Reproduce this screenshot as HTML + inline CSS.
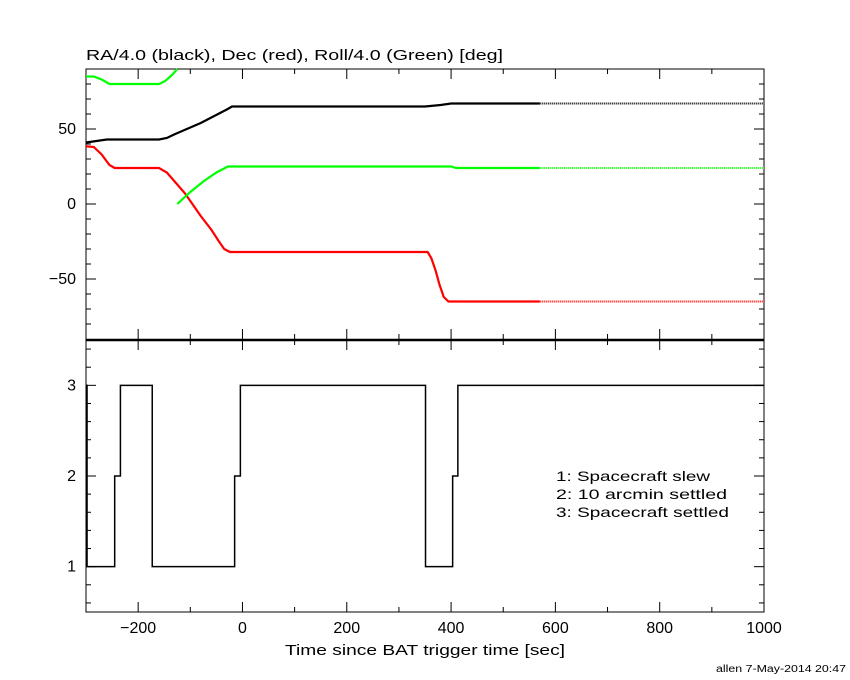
<!DOCTYPE html>
<html><head><meta charset="utf-8"><style>
body{margin:0;background:#fff}
svg{display:block;font-family:"Liberation Sans",sans-serif}
</style></head><body>
<svg id="c" width="850" height="680" viewBox="0 0 850 680">
<text x="86" y="60" font-size="15" textLength="417" lengthAdjust="spacingAndGlyphs">RA/4.0 (black), Dec (red), Roll/4.0 (Green) [deg]</text>
<g id="legend" font-size="14">
<text x="556" y="481" textLength="154" lengthAdjust="spacingAndGlyphs">1: Spacecraft slew</text>
<text x="556" y="499" textLength="171" lengthAdjust="spacingAndGlyphs">2: 10 arcmin settled</text>
<text x="556" y="517" textLength="173" lengthAdjust="spacingAndGlyphs">3: Spacecraft settled</text>
</g>
<text x="285" y="655" font-size="15" textLength="280" lengthAdjust="spacingAndGlyphs">Time since BAT trigger time [sec]</text>
<text x="716" y="672" font-size="10" textLength="130" lengthAdjust="spacingAndGlyphs">allen  7-May-2014 20:47</text>
</svg>
<script>
const xTicks=[-200,0,200,400,600,800,1000];
const topYTicks=[-50,0,50];
const botYTicks=[1,2,3];
const raSeries=[[-300,41],[-280,42],[-260,43],[-160,43],[-145,44],[-130,46.5],[-80,54],[-30,63],[-20,65],[0,65],[350,65],[380,66],[400,67],[1000,67]];
const decSeries=[[-300,38.5],[-285,38],[-270,33],[-255,26],[-245,24],[-160,24],[-145,21],[-130,15],[-110,7],[-96,0],[-80,-8],[-60,-17],[-45,-25],[-35,-30],[-24,-32],[355,-32],[362,-36],[370,-44],[378,-54],[386,-62],[395,-65],[1000,-65]];
const rollUpper=[[-300,85],[-285,85],[-270,83],[-255,80],[-160,80],[-148,82],[-135,86],[-125,90]];
const rollLower=[[-125,0],[-100,8],[-75,15],[-50,21],[-28,25],[400,25],[410,24],[1000,24]];
const modeTimes=[-300,-298,-245,-234,-173,-15,-4,351,403,413,1000];
const modeValues=[3,1,2,3,1,2,3,1,2,3,3];
const denseEnd=570;
const NS='http://www.w3.org/2000/svg';
const svg=document.getElementById('c');
const X0=86,X1=764,TT=69,TB=339,BT=340,BB=612;
const xs=t=>X0+(t+300)/1300*(X1-X0);
const yT=v=>TB-(v+90)/180*(TB-TT);
const yB=v=>BB-(v-0.5)/3*(BB-BT);
function mk(tag,a){const e=document.createElementNS(NS,tag);for(const k in a)e.setAttribute(k,a[k]);svg.appendChild(e);return e;}
let f=mk('rect',{x:X0,y:TT,width:X1-X0,height:BB-TT,fill:'none',stroke:'#000','stroke-width':1});


let sep=mk('line',{x1:X0,x2:X1,y1:340,y2:340,stroke:'#000','stroke-width':2.5});


for(let t=-300;t<=1000;t+=100){const px=xs(t);const L=(t%200===0)?10:5;
 for(const [yb,yt] of [[TB,TT],[BB,BT]]){
  const a=mk('line',{x1:px,x2:px,y1:yb,y2:yb-L,stroke:'#000'});
  const b=mk('line',{x1:px,x2:px,y1:yt,y2:yt+L,stroke:'#000'});}}
xTicks.forEach(t=>{const e=mk('text',{x:xs(t),y:633,'font-size':16,'text-anchor':'middle'});e.textContent=(t<0?'\u2212'+(-t):t);
 });
for(let v=-80;v<=80;v+=10){const L=(v%50===0)?10:5;
 const a=mk('line',{x1:X0,x2:X0+L,y1:yT(v),y2:yT(v),stroke:'#000'});
 const b=mk('line',{x1:X1,x2:X1-L,y1:yT(v),y2:yT(v),stroke:'#000'});}
topYTicks.forEach(v=>{const e=mk('text',{x:76,y:yT(v)+5,'font-size':16,'text-anchor':'end'});e.textContent=(v<0?'\u2212'+(-v):v);
 });
for(let i=3;i<=17;i++){const v=i/5;const L=(i%5===0)?10:5;
 const a=mk('line',{x1:X0,x2:X0+L,y1:yB(v),y2:yB(v),stroke:'#000'});
 const b=mk('line',{x1:X1,x2:X1-L,y1:yB(v),y2:yB(v),stroke:'#000'});}
botYTicks.forEach(v=>{const e=mk('text',{x:76,y:yB(v)+5,'font-size':16,'text-anchor':'end'});e.textContent=v;
 });
function series(pts,color,name){
 const dense=pts.filter(p=>p[0]<=denseEnd),sparse=[];
 const after=pts.filter(p=>p[0]>denseEnd);
 if(after.length){const lp=dense[dense.length-1],np=after[0];const v=lp[1]+(np[1]-lp[1])*(denseEnd-lp[0])/(np[0]-lp[0]);dense.push([denseEnd,v]);sparse.push([denseEnd,v],...after);}
 const l=mk('polyline',{points:dense.map(p=>xs(p[0])+','+yT(p[1])).join(' '),fill:'none',stroke:color,'stroke-width':2.2});
 
 if(sparse.length){const s=mk('polyline',{points:sparse.map(p=>xs(p[0])+','+yT(p[1])).join(' '),fill:'none',stroke:color,'stroke-width':2,'stroke-dasharray':'1 1'});
 }
}
series(raSeries,'#000','ra-line');
series(decSeries,'#f00','dec-line');
series(rollUpper,'#0f0','roll-line-upper');
series(rollLower,'#0f0','roll-line');
let d='';modeTimes.forEach((t,i)=>{const x=xs(t),y=yB(modeValues[i]);
 if(i===0)d+='M'+x+' '+y;else{d+=' L'+x+' '+yB(modeValues[i-1])+' L'+x+' '+y;}});
const st=mk('path',{d:d,fill:'none',stroke:'#000','stroke-width':1.5});


</script>
</body></html>
